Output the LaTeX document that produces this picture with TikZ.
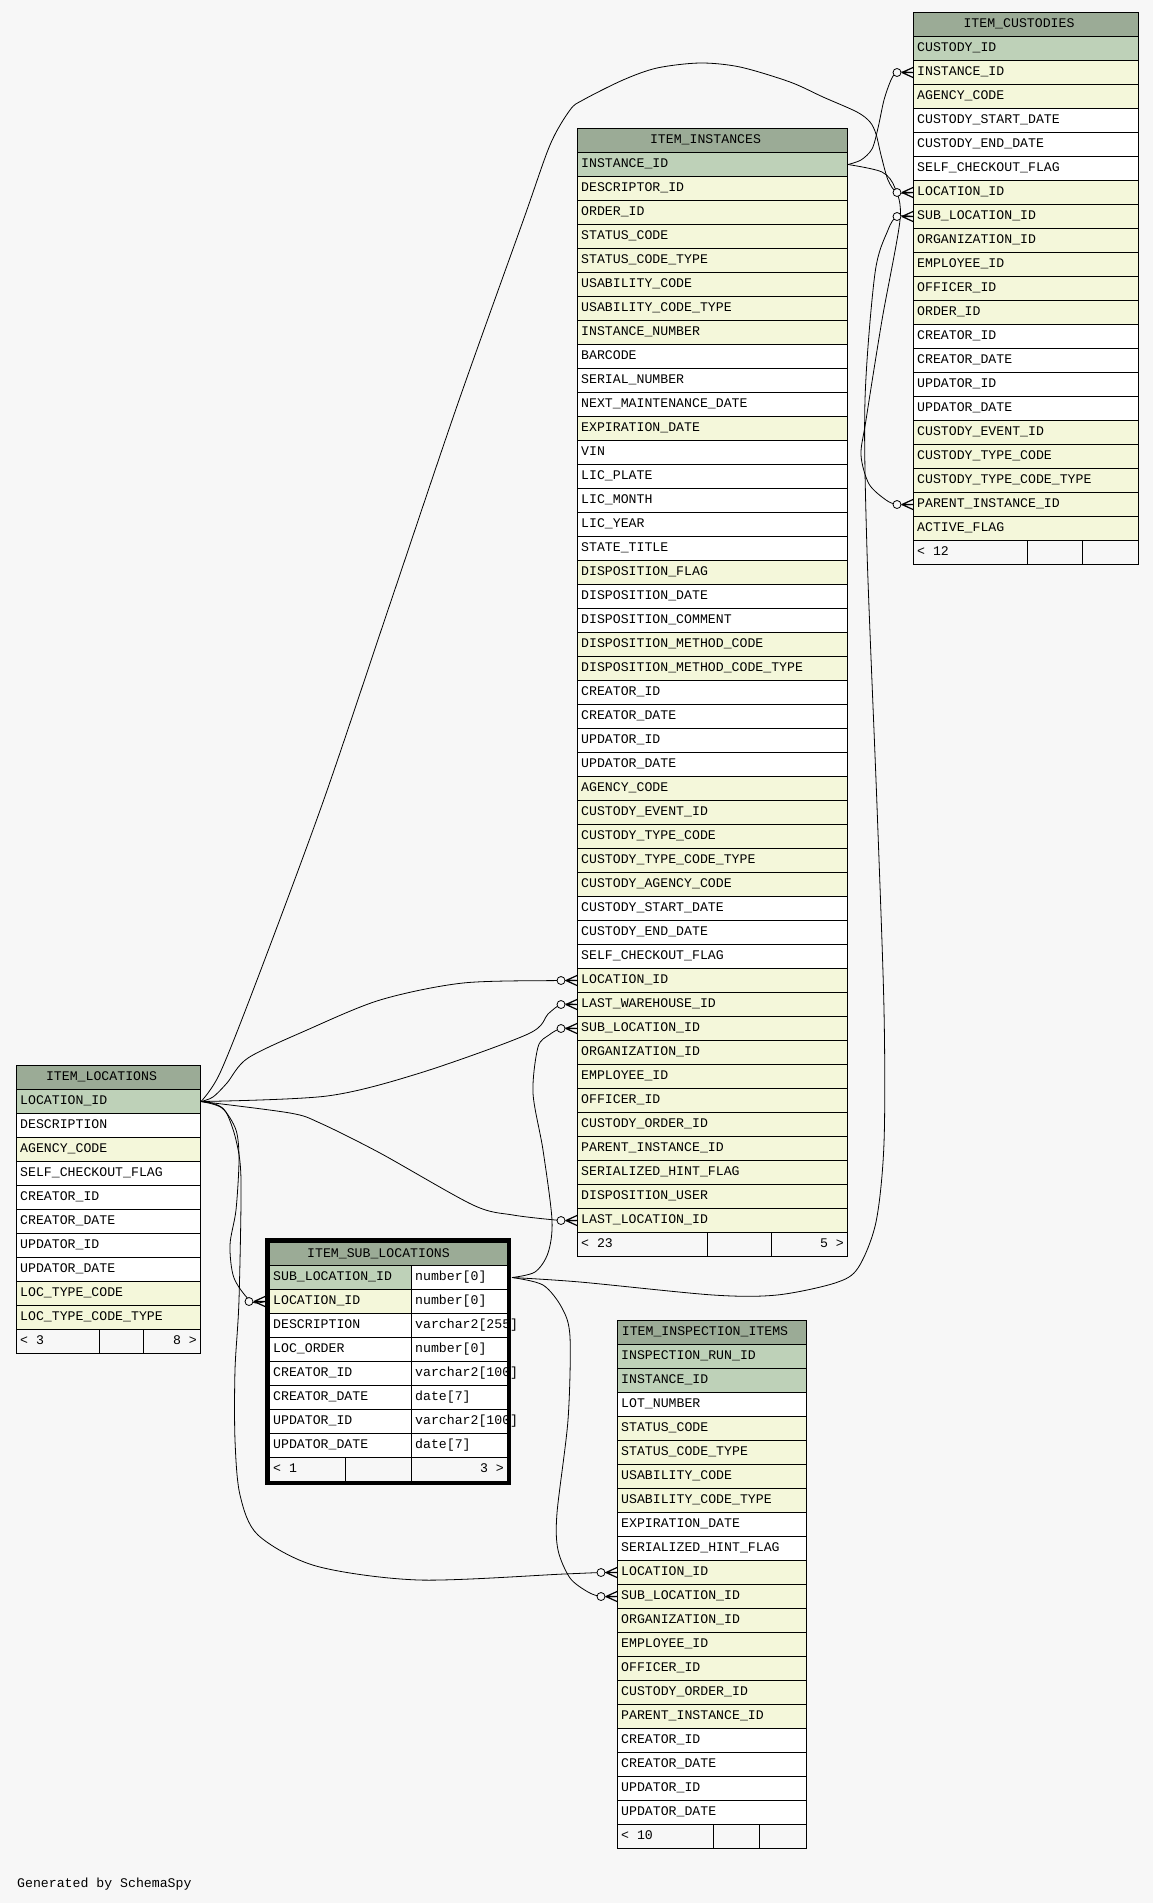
\documentclass[tikz,border=0pt]{standalone}
\usepackage{fontspec}
\newfontfamily\erdfont{Liberation Mono}
\usepackage{tikz}
\usepackage{xcolor}

\definecolor{bgcol}{HTML}{F7F7F7}
\definecolor{hdrcol}{HTML}{9BAB96}
\definecolor{pkrow}{HTML}{BED1B8}
\definecolor{fkrow}{HTML}{F4F7DA}
\definecolor{plainrow}{HTML}{FFFFFF}

\tikzset{
  every node/.style={font=\erdfont\fontsize{13.2}{15}\selectfont},
  cell/.style={draw, line width=1pt, minimum height=24pt, inner sep=0pt, anchor=north west},
  fieldtext/.style={anchor=west, inner xsep=4pt, inner ysep=0pt, text height=9pt, text depth=2.2pt},
  rel/.style={line width=0.8pt},
}

% table: name, left, top, width, title, rows
\newcommand{\erdtable}[6]{%
  \node[cell, fill=hdrcol, minimum width=#4pt] (#1) at (#2,#3) {};
  \node[fieldtext, anchor=center, xshift=-7pt] (#1-title) at (#1.center) {#5};
  \foreach \f/\c [count=\i from 0] in {#6} {
    \node[cell, fill=\c, minimum width=#4pt] (#1-\f) at (#2,#3+24+24*\i) {};
    \node[fieldtext] (#1-\f-label) at (#1-\f.west) {\f};
  }
}
% footer: name, x0, x1, x2, x3, top, left text, right text
\newcommand{\erdfoot}[8]{%
  \node[cell, fill=bgcol, minimum width=#3pt-#2pt] (#1-foota) at (#2,#6) {};
  \node[cell, fill=bgcol, minimum width=#4pt-#3pt] (#1-footb) at (#3,#6) {};
  \node[cell, fill=bgcol, minimum width=#5pt-#4pt] (#1-footc) at (#4,#6) {};
  \node[fieldtext] (#1-footl) at (#1-foota.west) {#7};
  \node[fieldtext, anchor=east] (#1-footr) at (#1-footc.east) {#8};
}
% zero-or-many end at a row
\newcommand{\crowodot}[1]{%
  \draw[line width=0.8pt, fill=bgcol] ([xshift=-16pt]#1) circle (4pt);
  \draw[line width=1.2pt] ([xshift=-11pt]#1) -- ([yshift=5pt]#1) ([xshift=-11pt]#1) -- ([yshift=-5pt]#1)
    ([xshift=-11pt]#1) -- (#1);
}

\begin{document}
\catcode`\_=12
\begin{tikzpicture}[x=1pt, y=-1pt]
  \useasboundingbox (0,0) rectangle (1153,1903);
  \fill[bgcol] (0,0) rectangle (1153,1903);

  % tables
  \erdtable{cust}{913}{12}{225}{ITEM_CUSTODIES}{CUSTODY_ID/pkrow, INSTANCE_ID/fkrow, AGENCY_CODE/fkrow,
    CUSTODY_START_DATE/plainrow, CUSTODY_END_DATE/plainrow, SELF_CHECKOUT_FLAG/plainrow, LOCATION_ID/fkrow,
    SUB_LOCATION_ID/fkrow, ORGANIZATION_ID/fkrow, EMPLOYEE_ID/fkrow, OFFICER_ID/fkrow, ORDER_ID/fkrow,
    CREATOR_ID/plainrow, CREATOR_DATE/plainrow, UPDATOR_ID/plainrow, UPDATOR_DATE/plainrow,
    CUSTODY_EVENT_ID/fkrow, CUSTODY_TYPE_CODE/fkrow, CUSTODY_TYPE_CODE_TYPE/fkrow, PARENT_INSTANCE_ID/fkrow,
    ACTIVE_FLAG/fkrow}
  \erdfoot{cust}{913}{1027}{1082}{1138}{540}{< 12}{}

  \erdtable{inst}{577}{128}{270}{ITEM_INSTANCES}{INSTANCE_ID/pkrow, DESCRIPTOR_ID/fkrow, ORDER_ID/fkrow,
    STATUS_CODE/fkrow, STATUS_CODE_TYPE/fkrow, USABILITY_CODE/fkrow, USABILITY_CODE_TYPE/fkrow,
    INSTANCE_NUMBER/fkrow, BARCODE/plainrow, SERIAL_NUMBER/plainrow, NEXT_MAINTENANCE_DATE/plainrow,
    EXPIRATION_DATE/fkrow, VIN/plainrow, LIC_PLATE/plainrow, LIC_MONTH/plainrow, LIC_YEAR/plainrow,
    STATE_TITLE/plainrow, DISPOSITION_FLAG/fkrow, DISPOSITION_DATE/plainrow, DISPOSITION_COMMENT/plainrow,
    DISPOSITION_METHOD_CODE/fkrow, DISPOSITION_METHOD_CODE_TYPE/fkrow, CREATOR_ID/plainrow,
    CREATOR_DATE/plainrow, UPDATOR_ID/plainrow, UPDATOR_DATE/plainrow, AGENCY_CODE/fkrow,
    CUSTODY_EVENT_ID/fkrow, CUSTODY_TYPE_CODE/fkrow, CUSTODY_TYPE_CODE_TYPE/fkrow, CUSTODY_AGENCY_CODE/fkrow,
    CUSTODY_START_DATE/plainrow, CUSTODY_END_DATE/plainrow, SELF_CHECKOUT_FLAG/plainrow, LOCATION_ID/fkrow,
    LAST_WAREHOUSE_ID/fkrow, SUB_LOCATION_ID/fkrow, ORGANIZATION_ID/fkrow, EMPLOYEE_ID/fkrow,
    OFFICER_ID/fkrow, CUSTODY_ORDER_ID/fkrow, PARENT_INSTANCE_ID/fkrow, SERIALIZED_HINT_FLAG/fkrow,
    DISPOSITION_USER/fkrow, LAST_LOCATION_ID/fkrow}
  \erdfoot{inst}{577}{707}{771}{847}{1232}{< 23}{5 >}

  \erdtable{loc}{16}{1065}{184}{ITEM_LOCATIONS}{LOCATION_ID/pkrow, DESCRIPTION/plainrow, AGENCY_CODE/fkrow,
    SELF_CHECKOUT_FLAG/plainrow, CREATOR_ID/plainrow, CREATOR_DATE/plainrow, UPDATOR_ID/plainrow,
    UPDATOR_DATE/plainrow, LOC_TYPE_CODE/fkrow, LOC_TYPE_CODE_TYPE/fkrow}
  \erdfoot{loc}{16}{99}{143}{200}{1329}{< 3}{8 >}

  \erdtable{insp}{617}{1320}{189}{ITEM_INSPECTION_ITEMS}{INSPECTION_RUN_ID/pkrow, INSTANCE_ID/pkrow,
    LOT_NUMBER/plainrow, STATUS_CODE/fkrow, STATUS_CODE_TYPE/fkrow, USABILITY_CODE/fkrow,
    USABILITY_CODE_TYPE/fkrow, EXPIRATION_DATE/plainrow, SERIALIZED_HINT_FLAG/plainrow, LOCATION_ID/fkrow,
    SUB_LOCATION_ID/fkrow, ORGANIZATION_ID/fkrow, EMPLOYEE_ID/fkrow, OFFICER_ID/fkrow, CUSTODY_ORDER_ID/fkrow,
    PARENT_INSTANCE_ID/fkrow, CREATOR_ID/plainrow, CREATOR_DATE/plainrow, UPDATOR_ID/plainrow,
    UPDATOR_DATE/plainrow}
  \erdfoot{insp}{617}{713}{759}{806}{1824}{< 10}{}

  % the selected table, with its column types
  \node[cell, fill=hdrcol, minimum width=238pt, minimum height=23pt] (sub) at (269,1242) {};
  \node[fieldtext, anchor=center, xshift=-10pt] (sub-title) at (sub.center) {ITEM_SUB_LOCATIONS};
  \foreach \f/\ty/\c [count=\i from 0] in {SUB_LOCATION_ID/number[0]/pkrow, LOCATION_ID/number[0]/fkrow,
      DESCRIPTION/varchar2[255]/plainrow, LOC_ORDER/number[0]/plainrow, CREATOR_ID/varchar2[100]/plainrow,
      CREATOR_DATE/date[7]/plainrow, UPDATOR_ID/varchar2[100]/plainrow, UPDATOR_DATE/date[7]/plainrow} {
    \node[cell, fill=\c, minimum width=142pt] (sub-\f) at (269,1265+24*\i) {};
    \node[fieldtext] (sub-\f-label) at (sub-\f.west) {\f};
    \node[cell, fill=plainrow, minimum width=96pt] (sub-\f-type) at (411,1265+24*\i) {};
    \node[fieldtext] (sub-\f-typelabel) at (sub-\f-type.west) {\ty};
  }
  \erdfoot{sub}{269}{345}{411}{507}{1457}{< 1}{3 >}
  \draw[line width=4pt] (267,1240) rectangle (509,1483);
  \coordinate (sub-out) at ([xshift=4pt]sub-SUB_LOCATION_ID-type.east);
  \coordinate (sub-in) at ([xshift=-4pt]sub-LOCATION_ID.west);

  % relationships
  \draw[rel] plot[smooth, tension=0.5] coordinates {(inst-INSTANCE_ID.east) (861,160) (872,149) (878,128)
    (884,100) (891,80) ([xshift=-16pt]cust-INSTANCE_ID.west) (cust-INSTANCE_ID.west)};
  \crowodot{cust-INSTANCE_ID.west}
  \draw[rel] plot[smooth, tension=0.5] coordinates {(inst-INSTANCE_ID.east) (882,172) (895,188) (900,220)
    (882,320) (866,420) (861,455) (869,484) (886,500) ([xshift=-16pt]cust-PARENT_INSTANCE_ID.west)
    (cust-PARENT_INSTANCE_ID.west)};
  \crowodot{cust-PARENT_INSTANCE_ID.west}
  \draw[rel] plot[smooth, tension=0.5] coordinates {(loc-LOCATION_ID.east) (220,1073) (257,980) (323,802)
    (390,604) (457,406) (523,221) (550,145) (570,110) (583,100) (623,80) (657,68) (700,63) (740,67) (790,82)
    (823,97) (857,112) (870,122) (876,134) (881,155) (888,180) ([xshift=-16pt]cust-LOCATION_ID.west)
    (cust-LOCATION_ID.west)};
  \crowodot{cust-LOCATION_ID.west}
  \draw[rel] plot[smooth, tension=0.5] coordinates {(sub-out) (580,1282)
    (713,1295) (777,1295) (835,1283) (858,1268) (876,1222) (884,1143) (884,1010) (877,806) (867,551)
    (865,400) (875,273) (888,230) ([xshift=-16pt]cust-SUB_LOCATION_ID.west) (cust-SUB_LOCATION_ID.west)};
  \crowodot{cust-SUB_LOCATION_ID.west}
  \draw[rel] plot[smooth, tension=0.5] coordinates {(loc-LOCATION_ID.east) (213,1097) (227,1083) (248,1058)
    (307,1030) (380,1000) (463,983) ([xshift=-16pt]inst-LOCATION_ID.west) (inst-LOCATION_ID.west)};
  \crowodot{inst-LOCATION_ID.west}
  \draw[rel] plot[smooth, tension=0.5] coordinates {(loc-LOCATION_ID.east) (327,1096) (420,1073) (528,1034)
    (548,1014) ([xshift=-16pt]inst-LAST_WAREHOUSE_ID.west) (inst-LAST_WAREHOUSE_ID.west)};
  \crowodot{inst-LAST_WAREHOUSE_ID.west}
  \draw[rel] plot[smooth, tension=0.5] coordinates {(sub-out) (535,1272)
    (548,1253) (552,1220) (543,1150) (533,1093) (538,1047) (549,1035) ([xshift=-16pt]inst-SUB_LOCATION_ID.west)
    (inst-SUB_LOCATION_ID.west)};
  \crowodot{inst-SUB_LOCATION_ID.west}
  \draw[rel] plot[smooth, tension=0.5] coordinates {(loc-LOCATION_ID.east) (290,1113) (320,1123) (380,1153)
    (473,1205) (513,1215) ([xshift=-16pt]inst-LAST_LOCATION_ID.west) (inst-LAST_LOCATION_ID.west)};
  \crowodot{inst-LAST_LOCATION_ID.west}
  \draw[rel] plot[smooth, tension=0.5] coordinates {(loc-LOCATION_ID.east) (222,1108) (236,1130) (239,1160)
    (236,1210) (230,1245) (234,1278) ([xshift=-14pt]sub-in) (sub-in)};
  \crowodot{sub-in}
  \draw[rel] plot[smooth, tension=0.5] coordinates {(loc-LOCATION_ID.east) (215,1104) (226,1112) (236,1140)
    (241,1180) (239,1300) (235,1370) (235,1440) (240,1495) (258,1535) (316,1566) (419,1580) (564,1574)
    ([xshift=-16pt]insp-LOCATION_ID.west) (insp-LOCATION_ID.west)};
  \crowodot{insp-LOCATION_ID.west}
  \draw[rel] plot[smooth, tension=0.5] coordinates {(sub-out) (543,1285)
    (562,1308) (570,1337) (568,1420) (557,1513) (558,1550) (570,1578) (588,1592)
    ([xshift=-16pt]insp-SUB_LOCATION_ID.west) (insp-SUB_LOCATION_ID.west)};
  \crowodot{insp-SUB_LOCATION_ID.west}

  \node[fieldtext] (credit) at (13,1884) {Generated by SchemaSpy};
\end{tikzpicture}
\end{document}
